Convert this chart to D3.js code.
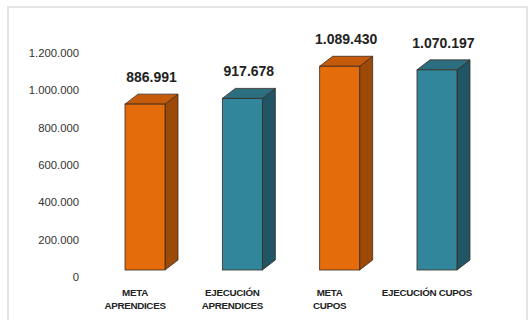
<!DOCTYPE html>
<html><head><meta charset="utf-8">
<script src="https://cdn.jsdelivr.net/npm/d3@7"></script>
<style>body{margin:0;background:#fff;}svg{display:block;}</style>
</head><body>
<script>
const categories = [["META","APRENDICES"],["EJECUCIÓN","APRENDICES"],["META","CUPOS"],["EJECUCIÓN CUPOS"]];
const values = [886991, 917678, 1089430, 1070197];
const valueLabels = ["886.991","917.678","1.089.430","1.070.197"];
const tickValues = [0,200000,400000,600000,800000,1000000,1200000];
const tickLabels = ["0","200.000","400.000","600.000","800.000","1.000.000","1.200.000"];
const colorKind = ["meta","ejec","meta","ejec"];

const W=529,H=320;
const pal = {meta:{front:"#E46C0A",top:"#C55A0B",side:"#9C4A07"}, ejec:{front:"#31869B",top:"#2A6E80",side:"#1F5565"}};
const svg=d3.select("body").append("svg").attr("width",W).attr("height",H);
// frame
svg.append("rect").attr("x",8).attr("y",7).attr("width",519).attr("height",330)
  .attr("fill","none").attr("stroke","#e3e3e3").attr("stroke-width",2);

const y=d3.scaleLinear().domain([0,1200000]).range([270,45.6]);
const x=d3.scaleBand().domain(d3.range(4)).range([100,482]).paddingInner(0.589).paddingOuter(0.257);
const dx=13, dy=10;

// y axis labels
const ax=svg.append("g").attr("transform","translate(79,7)")
  .call(d3.axisLeft(y).tickValues(tickValues).tickFormat((d,i)=>tickLabels[i]).tickSize(0).tickPadding(0));
ax.select(".domain").remove();
ax.selectAll("text").attr("font-family","'Liberation Sans',Arial,sans-serif").attr("font-size","11.3px").attr("fill","#333");

const g=svg.append("g");
values.forEach((v,i)=>{
  const x0=x(i), x1=x0+x.bandwidth(), yt=y(v), yb=y(0);
  const c=pal[colorKind[i]];
  const st="#3b2a1e";
  g.append("path").attr("d",`M${x1},${yt}L${x1+dx},${yt-dy}L${x1+dx},${yb-dy}L${x1},${yb}Z`)
    .attr("fill",c.side).attr("stroke",st).attr("stroke-width",0.8);
  g.append("path").attr("d",`M${x0},${yt}L${x0+dx},${yt-dy}L${x1+dx},${yt-dy}L${x1},${yt}Z`)
    .attr("fill",c.top).attr("stroke",st).attr("stroke-width",0.8);
  g.append("rect").attr("x",x0).attr("y",yt).attr("width",x.bandwidth()).attr("height",yb-yt)
    .attr("fill",c.front).attr("stroke",st).attr("stroke-width",0.8);
  g.append("text").attr("x",x0+x.bandwidth()/2+dx/2).attr("y",yt-27).attr("dy","0.35em")
    .attr("text-anchor","middle").attr("font-family","'Liberation Sans',Arial,sans-serif")
    .attr("font-weight","bold").attr("font-size","14px").attr("fill","#222").text(valueLabels[i]);
  const t=g.append("text").attr("text-anchor","middle").attr("font-family","'Liberation Sans',Arial,sans-serif")
    .attr("font-weight","bold").attr("font-size","9.8px").attr("fill","#222").attr("letter-spacing","-0.3px");
  categories[i].forEach((line,j)=>{
    t.append("tspan").attr("x",x0+x.bandwidth()/2-10).attr("y",yb+23+j*13).attr("dy","0.35em").text(line);
  });
});
</script>
</body></html>
